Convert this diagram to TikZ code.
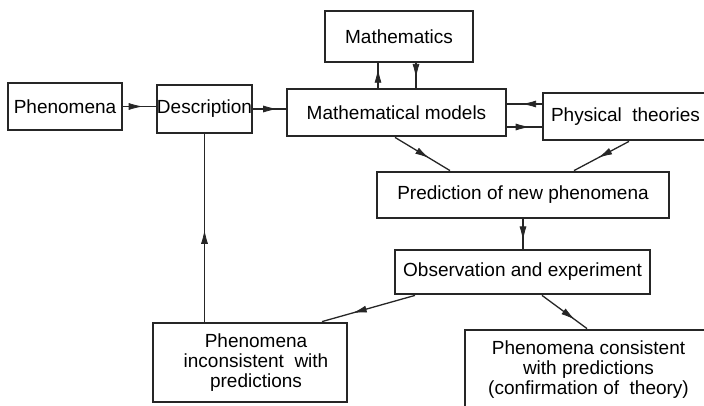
\documentclass[tikz,border=0pt]{standalone}
\usepackage{fontspec}
\setmainfont{Liberation Sans}
\usetikzlibrary{arrows.meta,decorations.markings}
\tikzset{
 box/.style={draw=black!85, line width=2.8pt, inner sep=0pt, align=center, font=\fontsize{19}{20}\selectfont},
 conn/.style={draw=black!85, line width=1.3pt},
 midarrow/.style={postaction={decorate}, decoration={markings, mark=at position #1 with {\arrow[line width=0.8pt]{Latex[length=14pt,width=7pt]}}}}
}
\begin{document}
\begin{tikzpicture}[x=1pt,y=-1pt]
\useasboundingbox (0,0) rectangle (704,406);
\node[box, minimum width=114pt, minimum height=47pt] (phen) at (65,106.5) {Phenomena};
\node[box, minimum width=95pt, minimum height=48pt] (desc) at (204.5,109) {Description};
\node[box, minimum width=148pt, minimum height=51pt] (math) at (399,36.5) {Mathematics};
\node[box, minimum width=219pt, minimum height=47pt] (mm) at (396.5,112.5) {Mathematical models};
\node[box, minimum width=165pt, minimum height=47pt] (pt) at (625.5,116.5) {Physical\ \ theories};
\node[box, minimum width=292pt, minimum height=46pt] (pred) at (523,195) {Prediction of new phenomena};
\node[box, minimum width=255pt, minimum height=44pt] (obs) at (522.5,272) {Observation and experiment};
\node[box, minimum width=194pt, minimum height=79pt] (incon) at (250,362.5) {\hspace*{12pt}Phenomena\\\hspace*{12pt}inconsistent\ \ with\\\hspace*{12pt}predictions};
\node[box, minimum width=247pt, minimum height=80pt] (cons) at (588.5,370) {Phenomena consistent\\with predictions\\(confirmation of\ \ theory)};

\draw[conn, midarrow=0.6] (phen.east) -- (phen.east -| desc.west);
\draw[conn, midarrow=0.74] (desc.east) -- (desc.east -| mm.west);
\draw[conn, midarrow=0.78] ([xshift=-18.5pt]mm.north) -- ([xshift=-18.5pt]mm.north |- math.south);
\draw[conn, midarrow=0.6] ([xshift=17pt]math.south) -- ([xshift=17pt]math.south |- mm.north);
\draw[conn, midarrow=0.57] ([yshift=12.5pt]pt.west) -- ([yshift=12.5pt]pt.west -| mm.east);
\draw[conn, midarrow=0.65] ([yshift=-14.5pt]mm.east) -- ([yshift=-14.5pt]mm.east -| pt.west);
\draw[conn, midarrow=0.62] ([xshift=-1.5pt]mm.south) -- ([xshift=-73pt]pred.north);
\draw[conn, midarrow=0.56] ([xshift=3.5pt]pt.south) -- ([xshift=51pt]pred.north);
\draw[conn, midarrow=0.72] (pred.south) -- (pred.south |- obs.north);
\draw[conn, midarrow=0.67] ([xshift=-107.5pt]obs.south) -- ([xshift=72pt]incon.north);
\draw[conn, midarrow=0.73] ([xshift=19.5pt]obs.south) -- ([xshift=-1.5pt]cons.north);
\draw[conn, midarrow=0.49] (desc.south |- incon.north) -- (desc.south);
\end{tikzpicture}
\end{document}
